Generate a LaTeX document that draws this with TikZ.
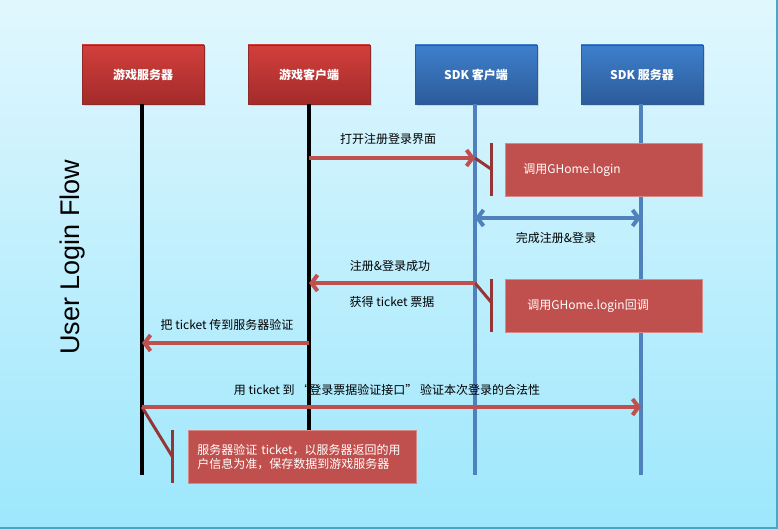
\documentclass[tikz,border=0pt]{standalone}
\usepackage{fontspec}
\setmainfont{Noto Sans CJK SC}
\newfontfamily\arialfont{Liberation Sans}
\usetikzlibrary{arrows.meta,shadows}
\definecolor{bgtop}{HTML}{E1F7FE}
\definecolor{bgbot}{HTML}{9DE7FC}
\definecolor{frame}{HTML}{45A9C4}
\definecolor{redtop}{HTML}{D23F3B}
\definecolor{redbot}{HTML}{A32B2B}
\definecolor{redline}{HTML}{8E2A2A}
\definecolor{bluetop}{HTML}{3E7FCC}
\definecolor{bluebot}{HTML}{2C5C9A}
\definecolor{blueline}{HTML}{2F5B91}
\definecolor{lifeblue}{HTML}{4F81BD}
\definecolor{msgred}{HTML}{C0504D}
\definecolor{brk}{HTML}{943634}
\definecolor{noteedge}{HTML}{D58A88}
\begin{document}
\begin{tikzpicture}[x=1pt,y=-1pt,
  font=\fontsize{12}{14}\selectfont,
  hdr/.style={minimum width=122pt, minimum height=59pt, inner sep=0pt, text=white,
    font=\bfseries\fontsize{12}{14}\selectfont,
    drop shadow={opacity=0.25, shadow xshift=2pt, shadow yshift=-2pt}},
  redhdr/.style={hdr, top color=redtop, bottom color=redbot, draw=redline, line width=0.6pt},
  bluehdr/.style={hdr, top color=bluetop, bottom color=bluebot, draw=blueline, line width=0.6pt},
  lifeblack/.style={draw=black, line width=4pt},
  lifebl/.style={draw=lifeblue, line width=4pt},
  msg/.style={draw=msgred, line width=4pt, -{Straight Barb[length=6pt,width=16pt]}},
  dmsg/.style={draw=lifeblue, line width=4pt, {Straight Barb[length=6pt,width=16pt]}-{Straight Barb[length=6pt,width=16pt]}},
  note/.style={fill=msgred, draw=noteedge, line width=0.6pt, text=white, align=left, anchor=north west, minimum height=53pt},
  brkline/.style={draw=brk, line width=3pt},
  lbl/.style={text=black, inner sep=0pt}
]
% background
\shade[top color=bgtop, bottom color=bgbot] (0,0) rectangle (778,529);
\useasboundingbox (0,0) rectangle (778,529);
\draw[frame, line width=1.5pt] (777,0) -- (777,528) -- (0,528);

% title
\node[rotate=90, anchor=base, font=\arialfont\fontsize{27}{30}\selectfont, inner sep=0pt] (title) at (79,257) {User Login Flow};

% headers
\node[redhdr] (gs) at (143,74.5) {游戏服务器};
\node[redhdr] (gc) at (309,74.5) {游戏客户端};
\node[bluehdr] (sc) at (476,74.5) {SDK 客户端};
\node[bluehdr] (ss) at (642,74.5) {SDK 服务器};

% lifeline ends
\coordinate (gsE) at (142,475);
\coordinate (gcE) at (309,431);
\coordinate (scE) at (475,475);
\coordinate (ssE) at (641,475);
\draw[lifeblack] (gs.south -| gsE) -- (gsE);
\draw[lifeblack] (gc.south -| gcE) -- (gcE);
\draw[lifebl] (sc.south -| scE) -- (scE);
\draw[lifebl] (ss.south -| ssE) -- (ssE);

% message points
\coordinate (m1a) at (309,158); \coordinate (m1b) at (475,158);
\coordinate (m2a) at (475,218); \coordinate (m2b) at (641,218);
\coordinate (m3a) at (475,283); \coordinate (m3b) at (309,283);
\coordinate (m4a) at (309,343); \coordinate (m4b) at (142,343);
\coordinate (m5a) at (142,407); \coordinate (m5b) at (641,407);

% notes
\node[note, minimum width=197pt, inner xsep=18pt, text width=161pt] (n1) at (505,143) {调用GHome.login};
\node[note, minimum width=197pt, inner xsep=22pt, text width=153pt] (n2) at (505,279) {调用GHome.login回调};
\node[note, minimum width=228pt, inner xsep=9pt, text width=210pt, font=\fontsize{12}{14}\selectfont] (n3) at (188,430) {服务器验证 ticket，以服务器返回的用\\户信息为准，保存数据到游戏服务器};

% callout brackets
\coordinate (b1t) at (491,143); \coordinate (b1b) at (491,196); \coordinate (b1k) at (491,169);
\coordinate (b2t) at (491,279); \coordinate (b2b) at (491,332); \coordinate (b2k) at (491,302);
\coordinate (b3t) at (172,430); \coordinate (b3b) at (172,483); \coordinate (b3k) at (172,456);
\draw[brkline] (b1t) -- (b1b);
\draw[brkline] (m1b) -- (b1k);
\draw[brkline] (b2t) -- (b2b);
\draw[brkline] (m3a) -- (b2k);
\draw[brkline] (b3t) -- (b3b);
\draw[brkline] (m5a) -- (b3k);

% messages
\draw[msg] (m1a) -- (m1b);
\draw[dmsg] (m2a) -- (m2b);
\draw[msg] (m3a) -- (m3b);
\draw[msg] (m4a) -- (m4b);
\draw[msg] (m5a) -- (m5b);

% labels
\node[lbl] (l1) at (388,139) {打开注册登录界面};
\node[lbl] (l2) at (556,238) {完成注册\&登录};
\node[lbl] (l3) at (390,266) {注册\&登录成功};
\node[lbl] (l4) at (392,302) {获得 ticket 票据};
\node[lbl] (l5) at (227,325) {把 ticket 传到服务器验证};
\node[lbl] (l6) at (387,390) {用 ticket 到 “登录票据验证接口” 验证本次登录的合法性};
\end{tikzpicture}
\end{document}
